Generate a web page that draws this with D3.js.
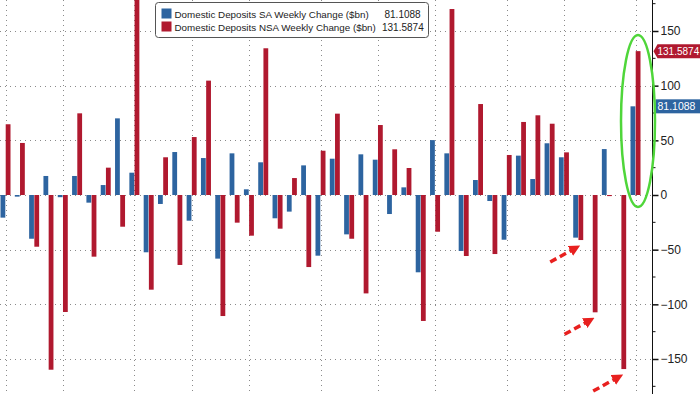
<!DOCTYPE html>
<html>
  <head>
    <meta charset="utf-8">
    <title>Domestic Deposits Weekly Change</title>
    <style>
      body {
        margin: 0;
        background-color: white;
      }
      svg {
        display: block;
        font-family: "Liberation Sans", Arial, sans-serif;
      }
    </style>
  </head>
  <body>
    <svg id="canvas" width="700" height="394"></svg>
    <script src="https://d3js.org/d3.v7.min.js"></script>
    <script>
      // Weekly changes, $bn (oldest week first)
      var weeks = d3.range(1, 46).map(i => "W" + i);
      var saValues = [
        -20.7, -1.5, -40, 17.4, -2, 17.4, -7, 9.1, 70.1, 20.4, -52.4, -8.2,
        39.3, -23.5, 33.8, -58.2, 38.1, 5.2, 29.9, -21.3, -15.2, 27.1, -55.5,
        33.2, -36, 37.2, 32.3, -17.4, 7, -70.7, 50.2, 38.1, -51.2, 13.7, -5.5,
        -40.9, 36, 14.6, 47.3, 34.5, -39, 0, 42, 0, 81.1088
      ];
      var nsaValues = [
        64.7, 47.6, -47.3, -159.8, -107, 74.7, -56.4, 25, -29, 190, -86.6, 34.5,
        -64, 53, 104.6, -110.7, -25.3, -37.2, 134.2, -30.8, 15.5, -65.9, 40.5,
        74.4, -40, -90, 64, 41.8, 24.7, -115.2, -33.6, 170.1, -55.8, 83.2, -54,
        36.6, 66.8, 72.9, 65.2, 39, -41.2, -107.3, -1, -159.2, 131.5874
      ];
      var seriesNames = [
        "Domestic Deposits SA Weekly Change ($bn)",
        "Domestic Deposits NSA Weekly Change ($bn)"
      ];
      var lastLabels = ["81.1088", "131.5874"];
      var monthStarts = ["W1", "W5", "W10", "W14", "W18", "W23", "W27", "W31", "W36", "W40", "W45"];
      var yTicks = [-150, -100, -50, 0, 50, 100, 150];
      var yMinorTicks = [-175, -125, -75, -25, 25, 75, 125, 175];
      // weeks the red arrows point at
      var arrowWeeks = ["W41", "W42", "W44"];

      const width = 700;
      const height = 394;
      const axisX = 652.5;
      const blue = "#2d64a0";
      const red = "#b0192f";

      var svg = d3.select("#canvas");

      var x = d3.scalePoint().domain(weeks).range([5.5, 635.5]);
      var inner = d3.scaleBand().domain(["sa", "nsa"]).range([-5, 5]).paddingInner(0.08);
      var y = d3.scaleLinear().domain([-150, 150]).range([359, 31]);

      // Main.
      addGrid();
      addBars();
      addAxis();
      addLegend();
      addAnnotations();

      function addGrid() {
        var g = svg.append("g").attr("class", "grid");
        g.selectAll("line.h")
          .data(yTicks)
          .join("line")
          .attr("class", "h")
          .attr("x1", 0)
          .attr("x2", axisX)
          .attr("y1", d => Math.round(y(d)) + 0.5)
          .attr("y2", d => Math.round(y(d)) + 0.5)
          .attr("stroke", "#8a8a8a")
          .attr("stroke-dasharray", "1,4");
        g.selectAll("line.v")
          .data(monthStarts)
          .join("line")
          .attr("class", "v")
          .attr("x1", d => Math.round(x(d)) + 0.5)
          .attr("x2", d => Math.round(x(d)) + 0.5)
          .attr("y1", 0)
          .attr("y2", height)
          .attr("stroke", "#8a8a8a")
          .attr("stroke-dasharray", "1,4");
      }

      function addBars() {
        svg.append("clipPath")
          .attr("id", "plot")
          .append("rect")
          .attr("x", 0)
          .attr("y", 0)
          .attr("width", axisX)
          .attr("height", height);
        var g = svg.append("g").attr("clip-path", "url(#plot)");
        var rows = weeks.map((w, i) => ({ week: w, sa: saValues[i], nsa: nsaValues[i] }));
        ["sa", "nsa"].forEach(key => {
          g.selectAll("rect." + key)
            .data(rows)
            .join("rect")
            .attr("class", key)
            .attr("x", d => x(d.week) + inner(key))
            .attr("width", inner.bandwidth())
            .attr("y", d => y(Math.max(0, d[key])))
            .attr("height", d => Math.abs(y(d[key]) - y(0)))
            .attr("fill", key === "sa" ? blue : red);
        });
      }

      function addAxis() {
        var axis = d3.axisRight(y).tickValues(yTicks).tickSize(6).tickPadding(2);
        var g = svg.append("g")
          .attr("transform", "translate(" + axisX + ",0)")
          .call(axis);
        g.select(".domain").remove();
        g.selectAll(".tick line").attr("stroke", "#111").attr("stroke-width", 1.5);
        g.selectAll(".tick text")
          .attr("fill", "#222")
          .attr("font-size", "12px")
          .attr("font-family", "Liberation Sans, Arial, sans-serif");
        g.append("line")
          .attr("y1", 0)
          .attr("y2", height)
          .attr("stroke", "#111");
        g.selectAll("line.minor")
          .data(yMinorTicks)
          .join("line")
          .attr("class", "minor")
          .attr("x1", 0)
          .attr("x2", 3)
          .attr("y1", d => y(d))
          .attr("y2", d => y(d))
          .attr("stroke", "#111");

        // last value tags
        var nsaY = y(nsaValues[nsaValues.length - 1]);
        svg.append("path")
          .attr("d", "M" + (axisX + 1) + "," + nsaY + "L" + (axisX + 5) + "," + (nsaY - 7) +
            "H" + width + "V" + (nsaY + 7) + "H" + (axisX + 5) + "Z")
          .attr("fill", red);
        svg.append("text")
          .attr("x", axisX + 5)
          .attr("y", nsaY + 4)
          .attr("fill", "white")
          .attr("font-size", "10px")
          .text(lastLabels[1]);
        var saY = y(saValues[saValues.length - 1]);
        svg.append("rect")
          .attr("x", axisX + 3)
          .attr("y", saY - 7)
          .attr("width", width - axisX - 3)
          .attr("height", 14)
          .attr("fill", blue);
        svg.append("text")
          .attr("x", axisX + 5)
          .attr("y", saY + 4)
          .attr("fill", "white")
          .attr("font-size", "10.5px")
          .text(lastLabels[0]);
      }

      function addLegend() {
        var g = svg.append("g").attr("transform", "translate(155.5,2.5)");
        g.append("rect")
          .attr("width", 273)
          .attr("height", 35)
          .attr("rx", 3)
          .attr("fill", "white")
          .attr("stroke", "#555");
        var valueX = [229, 226.5];
        seriesNames.forEach((name, i) => {
          g.append("rect")
            .attr("x", 6)
            .attr("y", 6 + i * 13)
            .attr("width", 10)
            .attr("height", 10)
            .attr("fill", i === 0 ? blue : red);
          g.append("text")
            .attr("x", 19)
            .attr("y", 15 + i * 13)
            .attr("font-size", "9.8px")
            .attr("fill", "#222")
            .text(name);
          g.append("text")
            .attr("x", valueX[i])
            .attr("y", 15 + i * 13)
            .attr("font-size", "10px")
            .attr("fill", "#222")
            .text(lastLabels[i]);
        });
      }

      function addAnnotations() {
        var last = weeks[weeks.length - 1];
        svg.append("ellipse")
          .attr("cx", x(last) + 2.5)
          .attr("cy", 121)
          .attr("rx", 17)
          .attr("ry", 86)
          .attr("fill", "none")
          .attr("stroke", "#4fd63a")
          .attr("stroke-width", 2.5);

        svg.append("defs")
          .append("marker")
          .attr("id", "head")
          .attr("viewBox", "0 0 10 10")
          .attr("refX", 8)
          .attr("refY", 5)
          .attr("markerWidth", 3.2)
          .attr("markerHeight", 3.2)
          .attr("orient", "auto")
          .append("path")
          .attr("d", "M0,0L10,5L0,10Z")
          .attr("fill", "#e8201f");

        // each arrow ends just below-left of the bar it points at
        arrowWeeks.forEach(w => {
          var i = weeks.indexOf(w);
          var low = Math.min(saValues[i], nsaValues[i]);
          var tipX = x(w) + (saValues[i] < nsaValues[i] ? -1 : 3);
          var tipY = y(low) + 5;
          svg.append("line")
            .attr("x1", tipX - 31)
            .attr("y1", tipY + 17)
            .attr("x2", tipX - 3)
            .attr("y2", tipY + 1.5)
            .attr("stroke", "#e8201f")
            .attr("stroke-width", 3.5)
            .attr("stroke-dasharray", "7,4")
            .attr("marker-end", "url(#head)");
        });
      }
    </script>
  </body>
</html>
